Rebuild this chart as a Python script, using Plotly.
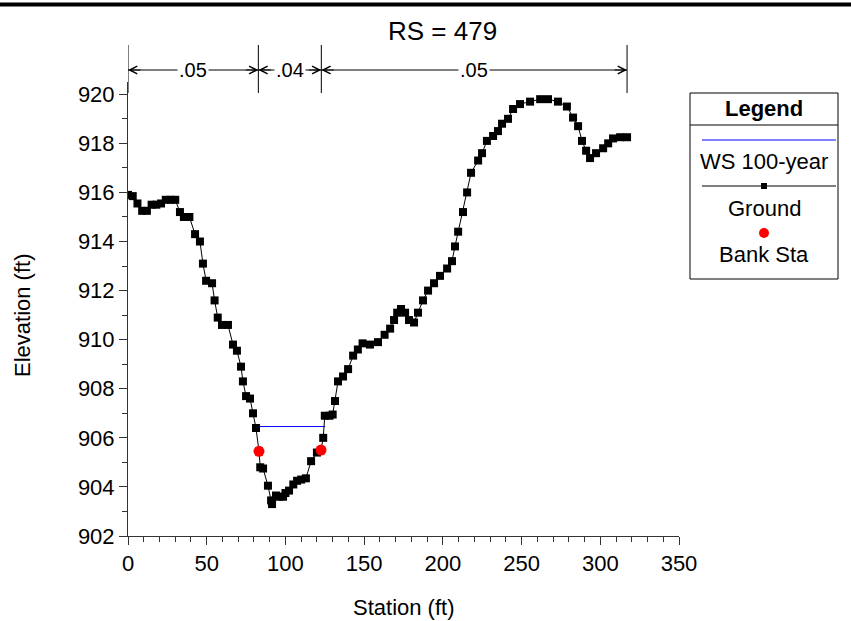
import plotly.graph_objects as go

# ---------------- data ----------------
station = [0, 3, 6, 9, 12, 15, 18, 21, 24, 27, 30, 33, 35.5, 39, 42.6, 45.7, 47.6, 49.6, 53.4, 55,
           57, 59.7, 63.5, 66.7, 69.2, 71.8, 73, 75, 77.5, 79.4, 81.3, 83.2, 84, 85.8, 88.9, 90.9,
           91.5, 94, 96, 98.5, 100, 102.3, 105, 107.4, 110, 113, 116.3, 120, 122.6, 124, 125,
           128, 130, 131.5, 133.4, 136.6, 139.8, 143, 146, 149, 153.7, 158.8, 163, 166.5, 169,
           171, 173.4, 176, 178.5, 181.7, 184.2, 187.4, 190.6, 194.4, 198.2, 202.7, 205.8, 207.7,
           209.7, 212.8, 215.4, 217.9, 222.4, 224.9, 228, 231.9, 235, 237.6, 241.4, 244.6, 249,
           255.4, 261.8, 266.8, 273.1, 278.8, 282.7, 285.9, 288.4, 291, 293.5, 297.3, 301.8, 305,
           308.1, 312.6, 317]
elevation = [915.9, 915.85, 915.55, 915.25, 915.25, 915.5, 915.5, 915.55, 915.7, 915.7, 915.7, 915.2,
             915.0, 915.0, 914.3, 914.0, 913.1, 912.4, 912.3, 911.6, 910.9, 910.6, 910.6, 909.8,
             909.55, 908.9, 908.3, 907.7, 907.6, 907.0, 906.4, 905.45, 904.8, 904.75, 904.05, 903.45,
             903.3, 903.65, 903.6, 903.6, 903.75, 903.85, 904.1, 904.25, 904.3, 904.35, 905.05, 905.4,
             905.5, 906.0, 906.9, 906.9, 906.95, 907.5, 908.3, 908.5, 908.8, 909.35, 909.6, 909.85,
             909.8, 909.9, 910.2, 910.45, 910.8, 911.1, 911.25, 911.1, 910.8, 910.7, 911.1, 911.6,
             912.0, 912.3, 912.6, 912.9, 913.2, 913.8, 914.4, 915.2, 916.0, 916.8, 917.3, 917.6,
             918.1, 918.3, 918.5, 918.8, 919.0, 919.4, 919.6, 919.7, 919.8, 919.8, 919.7, 919.5,
             919.05, 918.7, 918.1, 917.7, 917.4, 917.6, 917.8, 918.0, 918.2, 918.25, 918.25]

ws_station = [81.3, 125.2]
ws_elev = [906.46, 906.46]

bank_station = [83.2, 122.6]
bank_elev = [905.45, 905.5]

n_breaks = [0, 82.8, 122.8, 317]
n_values = [".05", ".04", ".05"]

title_text = "RS = 479"
x_title = "Station (ft)"
y_title = "Elevation (ft)"
legend_labels = ["WS 100-year", "Ground", "Bank Sta"]

# ---------------- layout helpers ----------------
W, H = 851, 621
L, R, T, B = 128, 172, 82, 85
PW, PH = W - L - R, H - T - B


def px_x(px):
    return (px - L) / PW


def px_y(py):
    return (H - B - py) / PH


FONT = "Liberation Sans, Arial, sans-serif"
FS = 22

fig = go.Figure()

fig.add_trace(go.Scatter(x=ws_station, y=ws_elev, mode="lines",
                         line=dict(color="#0000ff", width=1), name=legend_labels[0],
                         showlegend=False))
fig.add_trace(go.Scatter(x=station, y=elevation, mode="lines+markers",
                         line=dict(color="black", width=1),
                         marker=dict(symbol="square", size=8, color="black"),
                         name=legend_labels[1], showlegend=False))
fig.add_trace(go.Scatter(x=bank_station, y=bank_elev, mode="markers",
                         marker=dict(symbol="circle", size=11, color="#ff0000"),
                         name=legend_labels[2], showlegend=False))

shapes = []
annotations = []

# top thick border
shapes.append(dict(type="line", xref="paper", yref="paper", x0=px_x(0), x1=px_x(W),
                   y0=px_y(4.5), y1=px_y(4.5), line=dict(color="black", width=4)))

# title
annotations.append(dict(text=title_text, xref="paper", yref="paper", x=px_x(442), y=px_y(31),
                        showarrow=False, font=dict(family=FONT, size=26, color="black"),
                        xanchor="center", yanchor="middle"))

# axis titles
annotations.append(dict(text=x_title, xref="paper", yref="paper", x=px_x(403), y=px_y(607),
                        showarrow=False, font=dict(family=FONT, size=FS, color="black"),
                        xanchor="center", yanchor="middle"))
annotations.append(dict(text=y_title, xref="paper", yref="paper", x=px_x(22), y=px_y(315),
                        showarrow=False, textangle=-90,
                        font=dict(family=FONT, size=FS, color="black"),
                        xanchor="center", yanchor="middle"))

# Manning's n region markers
y_top, y_bot, y_arr = px_y(45), px_y(93), px_y(70)
for xb in n_breaks:
    shapes.append(dict(type="line", xref="x", yref="paper", x0=xb, x1=xb, y0=y_bot, y1=y_top,
                       line=dict(color="black", width=1)))
for i, val in enumerate(n_values):
    a, b = n_breaks[i], n_breaks[i + 1]
    shapes.append(dict(type="line", xref="x", yref="paper", x0=a, x1=b, y0=y_arr, y1=y_arr,
                       line=dict(color="black", width=1)))
    annotations.append(dict(text=val, xref="x", yref="paper", x=(a + b) / 2, y=y_arr,
                            showarrow=False, bgcolor="white", borderpad=1,
                            font=dict(family=FONT, size=20, color="black"),
                            xanchor="center", yanchor="middle"))
    for xe, axp in ((a, 14), (b, -14)):
        annotations.append(dict(text="", xref="x", yref="paper", x=xe, y=y_arr,
                                ax=axp, ay=0, axref="pixel", ayref="pixel",
                                showarrow=True, arrowhead=5, arrowsize=1.5, arrowwidth=1,
                                arrowcolor="black", standoff=0))

# custom legend box
lx0, lx1, ly0, ly1 = 690, 838, 93, 279
shapes.append(dict(type="rect", xref="paper", yref="paper", x0=px_x(lx0), x1=px_x(lx1),
                   y0=px_y(ly1), y1=px_y(ly0), line=dict(color="black", width=1),
                   fillcolor="white"))
shapes.append(dict(type="line", xref="paper", yref="paper", x0=px_x(lx0), x1=px_x(lx1),
                   y0=px_y(125), y1=px_y(125), line=dict(color="black", width=1)))
lcx = (lx0 + lx1) / 2
annotations.append(dict(text="<b>Legend</b>", xref="paper", yref="paper", x=px_x(lcx), y=px_y(108),
                        showarrow=False, font=dict(family=FONT, size=FS, color="black"),
                        xanchor="center", yanchor="middle"))
shapes.append(dict(type="line", xref="paper", yref="paper", x0=px_x(702), x1=px_x(836),
                   y0=px_y(140), y1=px_y(140), line=dict(color="#0000ff", width=1)))
shapes.append(dict(type="line", xref="paper", yref="paper", x0=px_x(702), x1=px_x(836),
                   y0=px_y(186), y1=px_y(186), line=dict(color="black", width=1)))
shapes.append(dict(type="rect", xref="paper", yref="paper", x0=px_x(lcx - 3), x1=px_x(lcx + 3),
                   y0=px_y(189), y1=px_y(183), line=dict(width=0), fillcolor="black"))
shapes.append(dict(type="circle", xref="paper", yref="paper", x0=px_x(lcx - 5), x1=px_x(lcx + 5),
                   y0=px_y(238), y1=px_y(228), line=dict(width=0), fillcolor="#ff0000"))
for lab, ly in zip(legend_labels, (161, 208, 255)):
    annotations.append(dict(text=lab, xref="paper", yref="paper", x=px_x(lcx), y=px_y(ly),
                            showarrow=False, font=dict(family=FONT, size=FS, color="black"),
                            xanchor="center", yanchor="middle"))

fig.update_layout(
    width=W, height=H,
    margin=dict(l=L, r=R, t=T, b=B, pad=0, autoexpand=False),
    paper_bgcolor="white", plot_bgcolor="white",
    font=dict(family=FONT, size=FS, color="black"),
    showlegend=False,
    shapes=shapes, annotations=annotations,
    xaxis=dict(range=[0, 350], tickmode="linear", tick0=0, dtick=50, automargin=False,
               showgrid=False, zeroline=False, showline=True, linecolor="#333333", linewidth=1,
               ticks="outside", ticklen=8, tickcolor="#333333", tickfont=dict(size=FS),
               minor=dict(dtick=10, ticks="outside", ticklen=5, tickcolor="#333333", showgrid=False)),
    yaxis=dict(range=[902, 920.5], tickmode="linear", tick0=902, dtick=2, automargin=False,
               showgrid=False, zeroline=False, showline=True, linecolor="#333333", linewidth=1,
               ticks="outside", ticklen=8, tickcolor="#333333", tickfont=dict(size=FS),
               minor=dict(dtick=1, ticks="outside", ticklen=5, tickcolor="#333333", showgrid=False)),
)

fig.write_html("out.html", config={"displayModeBar": False},
               post_script="document.body.style.margin='0';document.body.style.overflow='hidden';")
